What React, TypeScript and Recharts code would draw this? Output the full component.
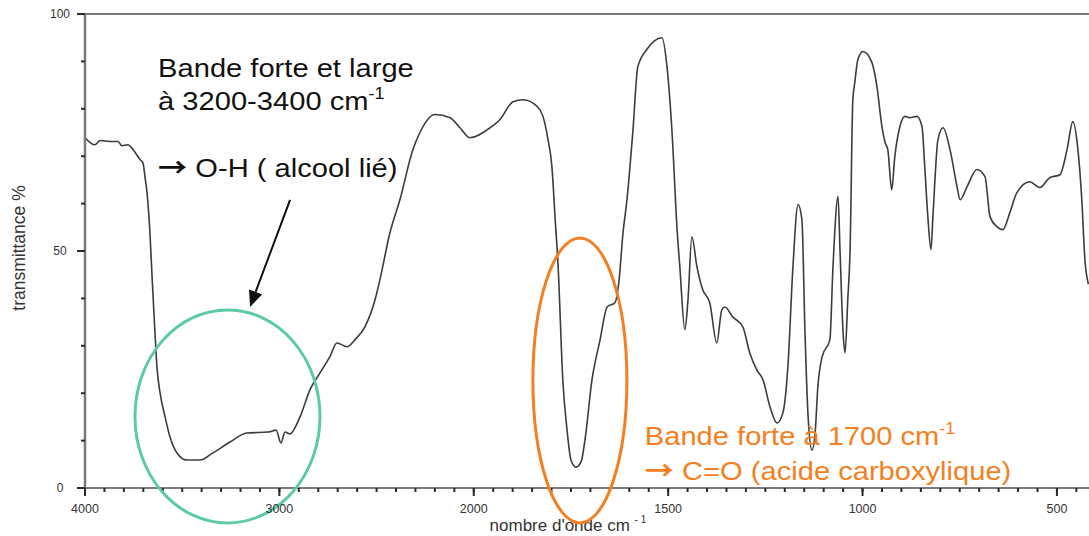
import React from 'react';
import { LineChart, Line, XAxis, YAxis, ReferenceLine, ReferenceDot } from 'recharts';

// Wavenumbers (cm-1) and transmittance (%)
const wavenumbers = [
  4000, 3949, 3923, 3871, 3830, 3810, 3779, 3753, 3717, 3702, 3691, 3681, 3666, 3655, 3640, 3630,
  3614, 3588, 3563, 3527, 3475, 3408, 3342, 3254, 3167, 3059, 3017, 2992, 2971, 2946, 2894, 2843,
  2791, 2740, 2704, 2652, 2611, 2560, 2508, 2483, 2431, 2380, 2313, 2277, 2200, 2122, 2071, 2020,
  1958, 1933, 1899, 1873, 1837, 1822, 1809, 1799, 1791, 1783, 1771, 1760, 1750, 1737, 1724, 1714,
  1696, 1675, 1657, 1637, 1627, 1616, 1606, 1591, 1578, 1555, 1516, 1503, 1490, 1477, 1470, 1457,
  1449, 1439, 1426, 1411, 1393, 1375, 1362, 1354, 1334, 1308, 1290, 1272, 1256, 1238, 1220, 1205,
  1192, 1179, 1166, 1156, 1148, 1140, 1130, 1122, 1115, 1104, 1084, 1076, 1063, 1058, 1050, 1045,
  1038, 1032, 1025, 1020, 1012, 999, 976, 963, 950, 942, 935, 925, 917, 904, 891, 878,
  860, 847, 840, 832, 824, 819, 806, 793, 775, 757, 749, 731, 706, 685, 672, 654,
  639, 621, 603, 570, 544, 518, 492, 474, 459, 446, 436, 428, 419,
];

const transmittance = [
  73.9, 72.4, 73.3, 73.1, 73.1, 72.2, 72.4, 71.4, 69.3, 68.6, 65.5, 62.3, 53.9, 44.6, 32.7, 25.6,
  20.1, 15.0, 10.8, 7.4, 5.9, 5.9, 7.4, 9.7, 11.6, 11.8, 12.2, 9.5, 11.8, 11.4, 15.0, 20.7,
  24.3, 27.7, 30.6, 29.8, 31.3, 34.0, 39.7, 43.9, 53.9, 60.8, 71.4, 75.0, 78.8, 78.1, 76.0, 73.9,
  76.0, 77.7, 81.5, 81.9, 80.5, 78.4, 73.5, 67.8, 57.2, 46.7, 22.8, 12.2, 5.9, 4.4, 5.5, 10.1,
  22.8, 31.3, 38.2, 39.1, 43.3, 53.9, 60.8, 75.0, 88.9, 92.5, 95.0, 88.9, 75.0, 54.5, 46.7, 33.4,
  39.7, 53.0, 46.7, 41.8, 39.1, 30.6, 37.6, 38.2, 36.1, 34.0, 28.5, 24.9, 22.8, 17.1, 13.7, 15.8,
  25.6, 46.7, 59.8, 56.6, 32.7, 15.0, 8.0, 11.6, 21.3, 27.7, 31.3, 46.7, 61.5, 50.3, 32.7, 28.5,
  39.7, 50.3, 81.9, 85.5, 90.4, 92.1, 89.8, 84.7, 76.2, 72.9, 71.4, 62.9, 69.9, 76.2, 78.4, 78.1,
  78.4, 76.2, 67.8, 57.2, 50.3, 57.2, 73.5, 76.0, 71.4, 63.6, 60.8, 63.6, 67.2, 65.7, 57.2, 55.1,
  54.5, 58.1, 62.3, 64.6, 63.4, 65.5, 66.1, 71.4, 77.3, 71.4, 60.8, 48.2, 43.0,
];

// Axis tick labels
const xLabelValues = [4000, 3000, 2000, 1500, 1000, 500];
const yTickValues = [0, 10, 20, 30, 40, 50, 60, 70, 80, 90, 100];
const yLabelValues = [0, 50, 100];

// Annotation anchors (wavenumber, transmittance)
const ohEllipse = { w: 3267, T: 15.1 };
const coEllipse = { w: 1727, T: 22.7 };
const ohText = { w: 3624, T: 86.8 };
const coText = { w: 1560, T: 9.1 };
const arrowStart = { w: 2945, T: 60.8 };
const arrowEnd = { w: 3151, T: 38.2 };

// The spectrometer chart doubles the scale below 2000 cm-1
const toT = (w: number) => (w >= 2000 ? 4000 - w : 2000 + (2000 - w) * 2);
const X_MAX = 5165;
const xTicks = Array.from({ length: 52 }, (_, i) => i * 100);
const xLabelT = xLabelValues.map(toT);

const data = wavenumbers.map((w, i) => ({ t: toT(w), T: transmittance[i] }));

const FONT = '"Liberation Sans", Arial, sans-serif';
const ARROW_FONT = '"Noto Sans CJK SC", "DejaVu Sans", sans-serif';
const AXIS = '#7a7a7a';
const TICK = '#2a2a2a';
const MINOR = 4;

const XTick = (props: any) => {
  const { x, y, payload } = props;
  const idx = xLabelT.indexOf(payload.value);
  const major = idx >= 0;
  return (
    <g>
      {major && <line x1={x} y1={y - MINOR} x2={x} y2={y + 4} stroke={TICK} strokeWidth={2} />}
      {major && (
        <text x={x} y={y + 21} textAnchor="middle" fontSize={12.5} fill="#333" fontFamily={FONT}>
          {xLabelValues[idx]}
        </text>
      )}
    </g>
  );
};

const YTick = (props: any) => {
  const { x, y, payload } = props;
  const major = yLabelValues.includes(payload.value);
  return (
    <g>
      {major && <line x1={x - 4} y1={y} x2={x + MINOR} y2={y} stroke={TICK} strokeWidth={2} />}
      {major && (
        <text x={60} y={y + 4} textAnchor="middle" fontSize={12} fill="#333" fontFamily={FONT}>
          {payload.value}
        </text>
      )}
    </g>
  );
};

const XTitle = (props: any) => {
  const vb = props.viewBox;
  return (
    <text x={vb.x + vb.width * 0.481} y={vb.y + 43} textAnchor="middle" fontSize={17} fill="#333" fontFamily={FONT}>
      nombre d'onde cm <tspan fontSize={10} dy={-8}>- 1</tspan>
    </text>
  );
};

const YTitle = (props: any) => {
  const vb = props.viewBox;
  return (
    <text
      transform={`translate(25, ${vb.y + vb.height / 2 - 3}) rotate(-90)`}
      textAnchor="middle"
      fontSize={17.5}
      fill="#333"
      fontFamily={FONT}
    >
      transmittance %
    </text>
  );
};

const Arrow = () => (
  <tspan fontFamily={ARROW_FONT} fontWeight={700}>→</tspan>
);

const ohTextShape = (p: any) => (
  <g transform={`translate(${p.cx},${p.cy}) scale(1.12,1)`} fontFamily={FONT} fontSize={26} fill="#111">
    <text x={0} y={0}>Bande forte et large</text>
    <text x={0} y={33}>
      à 3200-3400 cm<tspan fontSize={16} dy={-11}>-1</tspan>
    </text>
    <text x={0} y={100}>
      <Arrow /> O-H ( alcool lié)
    </text>
  </g>
);

const coTextShape = (p: any) => (
  <g transform={`translate(${p.cx},${p.cy}) scale(1.12,1)`} fontFamily={FONT} fontSize={26} fill="#F57F20">
    <text x={0} y={0}>
      Bande forte à 1700 cm<tspan fontSize={16} dy={-11}>-1</tspan>
    </text>
    <text x={0} y={35}>
      <Arrow /> C=O (acide carboxylique)
    </text>
  </g>
);

const ellipseShape = (rx: number, ry: number, color: string) => (p: any) => (
  <ellipse cx={p.cx} cy={p.cy} rx={rx} ry={ry} fill="none" stroke={color} strokeWidth={3} />
);

const arrowShape = (p: any) => {
  const { x1, y1, x2, y2 } = p;
  const dx = x2 - x1;
  const dy = y2 - y1;
  const len = Math.sqrt(dx * dx + dy * dy);
  const ux = dx / len;
  const uy = dy / len;
  const hl = 16;
  const hw = 7;
  const bx = x2 - ux * hl;
  const by = y2 - uy * hl;
  return (
    <g>
      <line x1={x1} y1={y1} x2={bx} y2={by} stroke="#111" strokeWidth={2} />
      <polygon
        points={`${x2},${y2} ${bx - uy * hw},${by + ux * hw} ${bx + uy * hw},${by - ux * hw}`}
        fill="#111"
      />
    </g>
  );
};

export default function App() {
  return (
    <div style={{ position: 'absolute', left: 0, top: 0, width: 1089, height: 536, background: '#fff' }}>
      <LineChart width={1089} height={536} data={data} margin={{ top: 14, right: 0, bottom: 0, left: 0 }}>
        <XAxis
          dataKey="t"
          type="number"
          domain={[0, X_MAX]}
          ticks={xTicks}
          interval={0}
          tickSize={MINOR}
          tickMargin={0}
          tick={<XTick />}
          tickLine={{ stroke: TICK, strokeWidth: 2 }}
          axisLine={{ stroke: AXIS, strokeWidth: 2 }}
          height={48}
          label={{ content: XTitle }}
        />
        <YAxis
          type="number"
          domain={[0, 100]}
          ticks={yTickValues}
          interval={0}
          tickSize={MINOR}
          tickMargin={0}
          tick={<YTick />}
          tickLine={{ stroke: TICK, strokeWidth: 2 }}
          axisLine={{ stroke: AXIS, strokeWidth: 2.5 }}
          width={85}
          label={{ content: YTitle }}
        />
        <ReferenceLine y={100} stroke={AXIS} strokeWidth={2} />
        <Line
          type="monotone"
          dataKey="T"
          stroke="#3c3c3c"
          strokeWidth={1.6}
          dot={false}
          isAnimationActive={false}
        />
        <ReferenceDot
          x={toT(ohEllipse.w)}
          y={ohEllipse.T}
          ifOverflow="visible"
          shape={ellipseShape(92.5, 106.5, '#5CC9A7')}
        />
        <ReferenceDot
          x={toT(coEllipse.w)}
          y={coEllipse.T}
          ifOverflow="visible"
          shape={ellipseShape(47, 142.5, '#F57F20')}
        />
        <ReferenceLine
          segment={[
            { x: toT(arrowStart.w), y: arrowStart.T },
            { x: toT(arrowEnd.w), y: arrowEnd.T },
          ]}
          ifOverflow="visible"
          shape={arrowShape}
        />
        <ReferenceDot x={toT(ohText.w)} y={ohText.T} ifOverflow="visible" shape={ohTextShape} />
        <ReferenceDot x={toT(coText.w)} y={coText.T} ifOverflow="visible" shape={coTextShape} />
      </LineChart>
    </div>
  );
}
